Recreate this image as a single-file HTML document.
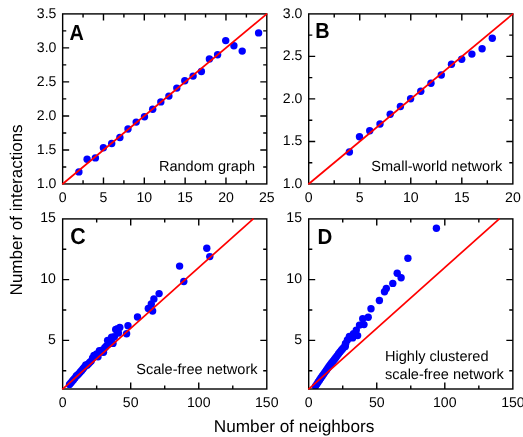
<!DOCTYPE html>
<html><head><meta charset="utf-8"><title>Figure</title>
<style>html,body{margin:0;padding:0;background:#fff}svg{display:block;will-change:transform}text{font-family:"Liberation Sans",sans-serif;fill:#000;text-rendering:geometricPrecision}</style></head>
<body><svg width="523" height="437" viewBox="0 0 523 437" font-size="14.55">
<rect width="523" height="437" fill="#fff"/>
<clipPath id="cA"><rect x="62.65" y="13.9" width="204.15" height="170.04999999999998"/></clipPath>
<g clip-path="url(#cA)">
<circle cx="78.9" cy="171.9" r="3.7" fill="#0000ff"/>
<circle cx="87.1" cy="159.3" r="3.7" fill="#0000ff"/>
<circle cx="95.4" cy="157.9" r="3.7" fill="#0000ff"/>
<circle cx="103.4" cy="147.8" r="3.7" fill="#0000ff"/>
<circle cx="111.7" cy="143.5" r="3.7" fill="#0000ff"/>
<circle cx="119.9" cy="137.5" r="3.7" fill="#0000ff"/>
<circle cx="128.0" cy="129.0" r="3.7" fill="#0000ff"/>
<circle cx="136.2" cy="122.1" r="3.7" fill="#0000ff"/>
<circle cx="144.5" cy="116.8" r="3.7" fill="#0000ff"/>
<circle cx="152.7" cy="109.3" r="3.7" fill="#0000ff"/>
<circle cx="160.8" cy="101.9" r="3.7" fill="#0000ff"/>
<circle cx="168.9" cy="96.1" r="3.7" fill="#0000ff"/>
<circle cx="176.8" cy="88.1" r="3.7" fill="#0000ff"/>
<circle cx="184.8" cy="80.7" r="3.7" fill="#0000ff"/>
<circle cx="193.1" cy="76.1" r="3.7" fill="#0000ff"/>
<circle cx="201.4" cy="71.5" r="3.7" fill="#0000ff"/>
<circle cx="209.4" cy="58.9" r="3.7" fill="#0000ff"/>
<circle cx="217.6" cy="54.8" r="3.7" fill="#0000ff"/>
<circle cx="225.7" cy="40.6" r="3.7" fill="#0000ff"/>
<circle cx="233.9" cy="45.8" r="3.7" fill="#0000ff"/>
<circle cx="242.2" cy="51.1" r="3.7" fill="#0000ff"/>
<circle cx="258.6" cy="32.9" r="3.7" fill="#0000ff"/>
</g>
<path d="M103.48 183.95v-6.5M103.48 13.9v6.5M144.31 183.95v-6.5M144.31 13.9v6.5M185.14 183.95v-6.5M185.14 13.9v6.5M225.97 183.95v-6.5M225.97 13.9v6.5M83.06 183.95v-3.6M83.06 13.9v3.6M123.89 183.95v-3.6M123.89 13.9v3.6M164.72 183.95v-3.6M164.72 13.9v3.6M205.56 183.95v-3.6M205.56 13.9v3.6M246.39 183.95v-3.6M246.39 13.9v3.6M62.65 149.94h6.5M266.8 149.94h-6.5M62.65 115.93h6.5M266.8 115.93h-6.5M62.65 81.92h6.5M266.8 81.92h-6.5M62.65 47.91h6.5M266.8 47.91h-6.5M62.65 166.94h3.6M266.8 166.94h-3.6M62.65 132.94h3.6M266.8 132.94h-3.6M62.65 98.92h3.6M266.8 98.92h-3.6M62.65 64.92h3.6M266.8 64.92h-3.6M62.65 30.91h3.6M266.8 30.91h-3.6" stroke="#000" stroke-width="1.4" fill="none"/>
<rect x="62.65" y="13.9" width="204.15" height="170.05" fill="none" stroke="#000" stroke-width="1.4"/>
<line x1="62.30" y1="184.24" x2="267.15" y2="13.61" stroke="#ff0000" stroke-width="1.7"/>
<text x="62.6" y="201.8" font-size="14.1" text-anchor="middle">0</text>
<text x="103.5" y="201.8" font-size="14.1" text-anchor="middle">5</text>
<text x="144.3" y="201.8" font-size="14.1" text-anchor="middle">10</text>
<text x="185.1" y="201.8" font-size="14.1" text-anchor="middle">15</text>
<text x="226.0" y="201.8" font-size="14.1" text-anchor="middle">20</text>
<text x="266.8" y="201.8" font-size="14.1" text-anchor="middle">25</text>
<text x="56.4" y="187.8" font-size="14.1" text-anchor="end">1.0</text>
<text x="56.4" y="153.8" font-size="14.1" text-anchor="end">1.5</text>
<text x="56.4" y="119.8" font-size="14.1" text-anchor="end">2.0</text>
<text x="56.4" y="85.8" font-size="14.1" text-anchor="end">2.5</text>
<text x="56.4" y="51.8" font-size="14.1" text-anchor="end">3.0</text>
<text x="56.4" y="17.8" font-size="14.1" text-anchor="end">3.5</text>
<text transform="translate(69.5,39.7) scale(0.91,1)" font-size="21.8" font-weight="bold">A</text>
<text x="158.9" y="171.1">Random graph</text>
<clipPath id="cB"><rect x="308.7" y="13.9" width="204.15000000000003" height="170.04999999999998"/></clipPath>
<g clip-path="url(#cB)">
<circle cx="349.4" cy="152.0" r="3.7" fill="#0000ff"/>
<circle cx="359.5" cy="136.8" r="3.7" fill="#0000ff"/>
<circle cx="369.7" cy="130.8" r="3.7" fill="#0000ff"/>
<circle cx="380.0" cy="124.0" r="3.7" fill="#0000ff"/>
<circle cx="390.2" cy="114.3" r="3.7" fill="#0000ff"/>
<circle cx="400.4" cy="106.5" r="3.7" fill="#0000ff"/>
<circle cx="410.6" cy="98.7" r="3.7" fill="#0000ff"/>
<circle cx="420.8" cy="91.3" r="3.7" fill="#0000ff"/>
<circle cx="431.0" cy="83.2" r="3.7" fill="#0000ff"/>
<circle cx="441.3" cy="75.0" r="3.7" fill="#0000ff"/>
<circle cx="451.5" cy="64.2" r="3.7" fill="#0000ff"/>
<circle cx="461.7" cy="59.2" r="3.7" fill="#0000ff"/>
<circle cx="471.9" cy="54.1" r="3.7" fill="#0000ff"/>
<circle cx="482.1" cy="48.8" r="3.7" fill="#0000ff"/>
<circle cx="492.3" cy="38.3" r="3.7" fill="#0000ff"/>
</g>
<path d="M359.74 183.95v-6.5M359.74 13.9v6.5M410.77 183.95v-6.5M410.77 13.9v6.5M461.81 183.95v-6.5M461.81 13.9v6.5M334.22 183.95v-3.6M334.22 13.9v3.6M385.26 183.95v-3.6M385.26 13.9v3.6M436.29 183.95v-3.6M436.29 13.9v3.6M487.33 183.95v-3.6M487.33 13.9v3.6M308.7 141.44h6.5M512.85 141.44h-6.5M308.7 98.92h6.5M512.85 98.92h-6.5M308.7 56.41h6.5M512.85 56.41h-6.5M308.7 162.69h3.6M512.85 162.69h-3.6M308.7 120.18h3.6M512.85 120.18h-3.6M308.7 77.67h3.6M512.85 77.67h-3.6M308.7 35.16h3.6M512.85 35.16h-3.6" stroke="#000" stroke-width="1.4" fill="none"/>
<rect x="308.7" y="13.9" width="204.15" height="170.05" fill="none" stroke="#000" stroke-width="1.4"/>
<line x1="308.35" y1="184.24" x2="513.20" y2="13.61" stroke="#ff0000" stroke-width="1.7"/>
<text x="308.7" y="201.8" font-size="14.1" text-anchor="middle">0</text>
<text x="359.7" y="201.8" font-size="14.1" text-anchor="middle">5</text>
<text x="410.8" y="201.8" font-size="14.1" text-anchor="middle">10</text>
<text x="461.8" y="201.8" font-size="14.1" text-anchor="middle">15</text>
<text x="512.9" y="201.8" font-size="14.1" text-anchor="middle">20</text>
<text x="302.4" y="187.8" font-size="14.1" text-anchor="end">1.0</text>
<text x="302.4" y="145.3" font-size="14.1" text-anchor="end">1.5</text>
<text x="302.4" y="102.8" font-size="14.1" text-anchor="end">2.0</text>
<text x="302.4" y="60.3" font-size="14.1" text-anchor="end">2.5</text>
<text x="302.4" y="17.8" font-size="14.1" text-anchor="end">3.0</text>
<text transform="translate(315.2,37.7) scale(0.91,1)" font-size="21.8" font-weight="bold">B</text>
<text x="371.3" y="171.2">Small-world network</text>
<clipPath id="cC"><rect x="62.65" y="218.9" width="204.15" height="170.1"/></clipPath>
<g clip-path="url(#cC)">
<circle cx="69.5" cy="384.4" r="3.7" fill="#0000ff"/>
<circle cx="70.8" cy="382.9" r="3.7" fill="#0000ff"/>
<circle cx="72.2" cy="381.3" r="3.7" fill="#0000ff"/>
<circle cx="73.5" cy="379.8" r="3.7" fill="#0000ff"/>
<circle cx="74.9" cy="378.1" r="3.7" fill="#0000ff"/>
<circle cx="76.3" cy="375.9" r="3.7" fill="#0000ff"/>
<circle cx="77.6" cy="375.0" r="3.7" fill="#0000ff"/>
<circle cx="79.0" cy="373.6" r="3.7" fill="#0000ff"/>
<circle cx="80.3" cy="372.0" r="3.7" fill="#0000ff"/>
<circle cx="81.7" cy="370.5" r="3.7" fill="#0000ff"/>
<circle cx="83.1" cy="368.8" r="3.7" fill="#0000ff"/>
<circle cx="84.4" cy="367.1" r="3.7" fill="#0000ff"/>
<circle cx="85.8" cy="364.9" r="3.7" fill="#0000ff"/>
<circle cx="87.1" cy="365.3" r="3.7" fill="#0000ff"/>
<circle cx="88.5" cy="363.7" r="3.7" fill="#0000ff"/>
<circle cx="89.9" cy="362.3" r="3.7" fill="#0000ff"/>
<circle cx="91.2" cy="361.1" r="3.7" fill="#0000ff"/>
<circle cx="92.6" cy="358.0" r="3.7" fill="#0000ff"/>
<circle cx="94.0" cy="355.5" r="3.7" fill="#0000ff"/>
<circle cx="95.3" cy="356.4" r="3.7" fill="#0000ff"/>
<circle cx="96.7" cy="354.0" r="3.7" fill="#0000ff"/>
<circle cx="98.0" cy="356.7" r="3.7" fill="#0000ff"/>
<circle cx="99.4" cy="350.7" r="3.7" fill="#0000ff"/>
<circle cx="100.8" cy="351.9" r="3.7" fill="#0000ff"/>
<circle cx="102.1" cy="350.1" r="3.7" fill="#0000ff"/>
<circle cx="103.5" cy="352.3" r="3.7" fill="#0000ff"/>
<circle cx="104.8" cy="347.7" r="3.7" fill="#0000ff"/>
<circle cx="106.2" cy="346.2" r="3.7" fill="#0000ff"/>
<circle cx="107.6" cy="340.4" r="3.7" fill="#0000ff"/>
<circle cx="108.9" cy="344.0" r="3.7" fill="#0000ff"/>
<circle cx="110.3" cy="341.6" r="3.7" fill="#0000ff"/>
<circle cx="111.6" cy="337.1" r="3.7" fill="#0000ff"/>
<circle cx="113.0" cy="343.4" r="3.7" fill="#0000ff"/>
<circle cx="114.4" cy="336.8" r="3.7" fill="#0000ff"/>
<circle cx="115.7" cy="329.5" r="3.7" fill="#0000ff"/>
<circle cx="117.1" cy="328.9" r="3.7" fill="#0000ff"/>
<circle cx="118.5" cy="333.1" r="3.7" fill="#0000ff"/>
<circle cx="119.8" cy="327.4" r="3.7" fill="#0000ff"/>
<circle cx="126.6" cy="333.8" r="3.7" fill="#0000ff"/>
<circle cx="128.0" cy="325.8" r="3.7" fill="#0000ff"/>
<circle cx="137.5" cy="317.0" r="3.7" fill="#0000ff"/>
<circle cx="148.3" cy="308.5" r="3.7" fill="#0000ff"/>
<circle cx="152.6" cy="311.0" r="3.7" fill="#0000ff"/>
<circle cx="151.3" cy="303.9" r="3.7" fill="#0000ff"/>
<circle cx="153.9" cy="298.9" r="3.7" fill="#0000ff"/>
<circle cx="159.1" cy="293.6" r="3.7" fill="#0000ff"/>
<circle cx="183.8" cy="281.5" r="3.7" fill="#0000ff"/>
<circle cx="179.6" cy="266.1" r="3.7" fill="#0000ff"/>
<circle cx="209.8" cy="256.6" r="3.7" fill="#0000ff"/>
<circle cx="206.8" cy="248.3" r="3.7" fill="#0000ff"/>
</g>
<path d="M130.70 389.0v-6.5M130.70 218.9v6.5M198.75 389.0v-6.5M198.75 218.9v6.5M96.67 389.0v-3.6M96.67 218.9v3.6M164.72 389.0v-3.6M164.72 218.9v3.6M232.78 389.0v-3.6M232.78 218.9v3.6M62.65 340.40h6.5M266.8 340.40h-6.5M62.65 279.65h6.5M266.8 279.65h-6.5M62.65 370.77h3.6M266.8 370.77h-3.6M62.65 310.02h3.6M266.8 310.02h-3.6M62.65 249.28h3.6M266.8 249.28h-3.6" stroke="#000" stroke-width="1.4" fill="none"/>
<rect x="62.65" y="218.9" width="204.15" height="170.10" fill="none" stroke="#000" stroke-width="1.4"/>
<line x1="62.31" y1="389.30" x2="253.53" y2="218.60" stroke="#ff0000" stroke-width="1.7"/>
<text x="62.6" y="406.8" font-size="14.1" text-anchor="middle">0</text>
<text x="130.7" y="406.8" font-size="14.1" text-anchor="middle">50</text>
<text x="198.8" y="406.8" font-size="14.1" text-anchor="middle">100</text>
<text x="266.8" y="406.8" font-size="14.1" text-anchor="middle">150</text>
<text x="55.9" y="343.8" font-size="14.1" text-anchor="end">5</text>
<text x="55.9" y="283.0" font-size="14.1" text-anchor="end">10</text>
<text x="55.9" y="222.3" font-size="14.1" text-anchor="end">15</text>
<text transform="translate(70.2,244.2) scale(0.93,1)" font-size="23.0" font-weight="bold">C</text>
<text x="136.3" y="373.5">Scale-free network</text>
<clipPath id="cD"><rect x="308.7" y="218.9" width="204.15000000000003" height="170.1"/></clipPath>
<g clip-path="url(#cD)">
<circle cx="315.5" cy="386.1" r="3.7" fill="#0000ff"/>
<circle cx="316.9" cy="384.1" r="3.7" fill="#0000ff"/>
<circle cx="318.2" cy="382.0" r="3.7" fill="#0000ff"/>
<circle cx="319.6" cy="380.0" r="3.7" fill="#0000ff"/>
<circle cx="320.9" cy="378.0" r="3.7" fill="#0000ff"/>
<circle cx="322.3" cy="376.0" r="3.7" fill="#0000ff"/>
<circle cx="323.7" cy="374.1" r="3.7" fill="#0000ff"/>
<circle cx="325.0" cy="372.1" r="3.7" fill="#0000ff"/>
<circle cx="326.4" cy="370.2" r="3.7" fill="#0000ff"/>
<circle cx="327.8" cy="368.3" r="3.7" fill="#0000ff"/>
<circle cx="329.1" cy="366.3" r="3.7" fill="#0000ff"/>
<circle cx="330.5" cy="364.4" r="3.7" fill="#0000ff"/>
<circle cx="331.8" cy="362.6" r="3.7" fill="#0000ff"/>
<circle cx="333.2" cy="360.9" r="3.7" fill="#0000ff"/>
<circle cx="334.6" cy="359.2" r="3.7" fill="#0000ff"/>
<circle cx="335.9" cy="357.4" r="3.7" fill="#0000ff"/>
<circle cx="337.3" cy="355.6" r="3.7" fill="#0000ff"/>
<circle cx="338.6" cy="353.8" r="3.7" fill="#0000ff"/>
<circle cx="340.0" cy="351.9" r="3.7" fill="#0000ff"/>
<circle cx="341.4" cy="350.3" r="3.7" fill="#0000ff"/>
<circle cx="342.7" cy="348.7" r="3.7" fill="#0000ff"/>
<circle cx="344.1" cy="347.1" r="3.7" fill="#0000ff"/>
<circle cx="345.4" cy="343.9" r="3.7" fill="#0000ff"/>
<circle cx="345.3" cy="346.6" r="3.7" fill="#0000ff"/>
<circle cx="347.4" cy="340.0" r="3.7" fill="#0000ff"/>
<circle cx="353.5" cy="333.8" r="3.7" fill="#0000ff"/>
<circle cx="345.7" cy="343.4" r="3.7" fill="#0000ff"/>
<circle cx="349.4" cy="336.5" r="3.7" fill="#0000ff"/>
<circle cx="352.6" cy="337.9" r="3.7" fill="#0000ff"/>
<circle cx="357.6" cy="335.6" r="3.7" fill="#0000ff"/>
<circle cx="356.3" cy="330.1" r="3.7" fill="#0000ff"/>
<circle cx="359.5" cy="325.1" r="3.7" fill="#0000ff"/>
<circle cx="364.0" cy="324.6" r="3.7" fill="#0000ff"/>
<circle cx="362.7" cy="318.7" r="3.7" fill="#0000ff"/>
<circle cx="368.2" cy="317.2" r="3.7" fill="#0000ff"/>
<circle cx="371.0" cy="308.7" r="3.7" fill="#0000ff"/>
<circle cx="379.4" cy="300.5" r="3.7" fill="#0000ff"/>
<circle cx="384.5" cy="291.8" r="3.7" fill="#0000ff"/>
<circle cx="386.3" cy="288.4" r="3.7" fill="#0000ff"/>
<circle cx="392.8" cy="283.4" r="3.7" fill="#0000ff"/>
<circle cx="401.1" cy="277.8" r="3.7" fill="#0000ff"/>
<circle cx="397.2" cy="273.3" r="3.7" fill="#0000ff"/>
<circle cx="407.9" cy="258.2" r="3.7" fill="#0000ff"/>
<circle cx="436.4" cy="228.2" r="3.7" fill="#0000ff"/>
</g>
<path d="M376.75 389.0v-6.5M376.75 218.9v6.5M444.80 389.0v-6.5M444.80 218.9v6.5M342.73 389.0v-3.6M342.73 218.9v3.6M410.77 389.0v-3.6M410.77 218.9v3.6M478.83 389.0v-3.6M478.83 218.9v3.6M308.7 340.40h6.5M512.85 340.40h-6.5M308.7 279.65h6.5M512.85 279.65h-6.5M308.7 370.77h3.6M512.85 370.77h-3.6M308.7 310.02h3.6M512.85 310.02h-3.6M308.7 249.28h3.6M512.85 249.28h-3.6" stroke="#000" stroke-width="1.4" fill="none"/>
<rect x="308.7" y="218.9" width="204.15" height="170.10" fill="none" stroke="#000" stroke-width="1.4"/>
<line x1="308.36" y1="389.30" x2="499.58" y2="218.60" stroke="#ff0000" stroke-width="1.7"/>
<text x="308.7" y="406.8" font-size="14.1" text-anchor="middle">0</text>
<text x="376.8" y="406.8" font-size="14.1" text-anchor="middle">50</text>
<text x="444.8" y="406.8" font-size="14.1" text-anchor="middle">100</text>
<text x="512.9" y="406.8" font-size="14.1" text-anchor="middle">150</text>
<text x="302.0" y="343.8" font-size="14.1" text-anchor="end">5</text>
<text x="302.0" y="283.0" font-size="14.1" text-anchor="end">10</text>
<text x="302.0" y="222.3" font-size="14.1" text-anchor="end">15</text>
<text transform="translate(317.4,243.8) scale(0.94,1)" font-size="21.8" font-weight="bold">D</text>
<text x="385.0" y="361.1">Highly clustered</text>
<text x="385.0" y="379.2">scale-free network</text>
<text x="213.8" y="432.3" font-size="17.2">Number of neighbors</text>
<text transform="translate(22.2,295.4) rotate(-90)" font-size="17">Number of interactions</text>
</svg></body></html>
